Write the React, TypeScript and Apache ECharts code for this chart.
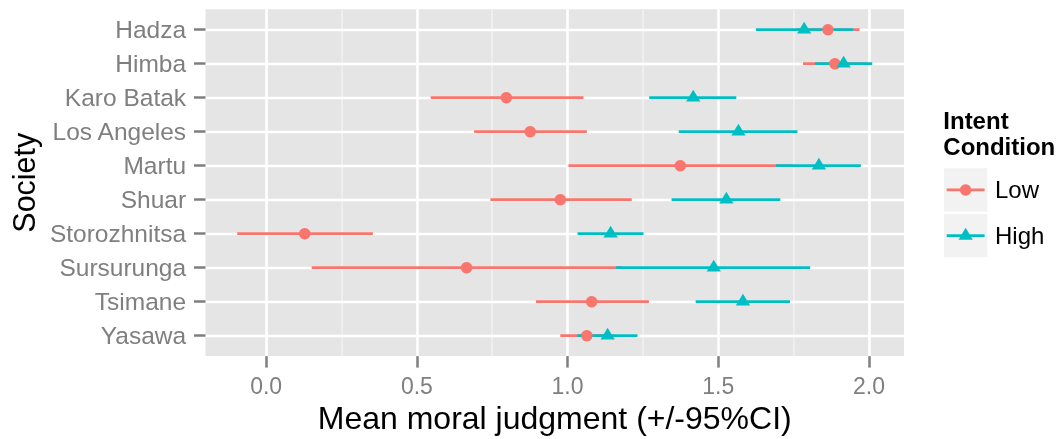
import React, { useEffect, useRef } from "react";
import * as echarts from "echarts";

const societies = [
  "Hadza",
  "Himba",
  "Karo Batak",
  "Los Angeles",
  "Martu",
  "Shuar",
  "Storozhnitsa",
  "Sursurunga",
  "Tsimane",
  "Yasawa",
];
const lowMean = [1.864, 1.887, 0.797, 0.876, 1.374, 0.976, 0.128, 0.665, 1.08, 1.064];
const lowLower = [1.76, 1.781, 0.546, 0.69, 1.003, 0.744, -0.096, 0.151, 0.895, 0.976];
const lowUpper = [1.969, 1.992, 1.053, 1.064, 1.746, 1.213, 0.354, 1.179, 1.27, 1.152];
const highMean = [1.785, 1.916, 1.417, 1.567, 1.834, 1.527, 1.143, 1.485, 1.582, 1.133];
const highLower = [1.625, 1.821, 1.271, 1.369, 1.692, 1.345, 1.033, 1.161, 1.425, 1.033];
const highUpper = [1.947, 2.011, 1.56, 1.763, 1.973, 1.706, 1.252, 1.805, 1.738, 1.232];
const xTicks = [0, 0.5, 1.0, 1.5, 2.0];
const xMinorTicks = [0.25, 0.75, 1.25, 1.75];
const groupNames = ["Low", "High"];
const legendTitle = "Intent\nCondition";
const xTitle = "Mean moral judgment (+/-95%CI)";
const yTitle = "Society";

const RED = "#F8766D";
const TEAL = "#00BFC4";
const FONT = '"Liberation Sans", Arial, sans-serif';
const GREY_TEXT = "#7F7F7F";

export default function App() {
  const ref = useRef<HTMLDivElement>(null);

  useEffect(() => {
    if (!ref.current) return;
    const chart = echarts.init(ref.current, undefined, { renderer: "svg" });

    const all = [...lowLower, ...lowUpper, ...highLower, ...highUpper];
    const dmin = Math.min(...all);
    const dmax = Math.max(...all);
    const pad = 0.05 * (dmax - dmin);
    const xmin = dmin - pad;
    const xmax = dmax + pad;

    const idx = societies.map((_, i) => i);
    const gridLeft = 202.7;
    const gridTop = 9.3;
    const gridW = 701.3;
    const gridH = 349;

    const errData = (lo: number[], hi: number[]) => idx.map((i) => [lo[i], hi[i], i]);
    const ptData = (m: number[]) => idx.map((i) => [m[i], i]);

    const errSeries = (name: string, lo: number[], hi: number[], color: string) => ({
      type: "custom",
      name,
      xAxisIndex: 0,
      yAxisIndex: 0,
      data: errData(lo, hi),
      encode: { x: [0, 1], y: 2 },
      renderItem: (params: any, api: any) => {
        const y = api.value(2);
        const p1 = api.coord([api.value(0), y]);
        const p2 = api.coord([api.value(1), y]);
        return {
          type: "line",
          shape: { x1: p1[0], y1: p1[1], x2: p2[0], y2: p2[1] },
          style: { stroke: color, lineWidth: 2.7 },
        };
      },
      silent: true,
    });

    const kx = 944;
    const kw = 43.3;
    const key1 = 168.3;
    const key2 = 214;
    const kc = kx + kw / 2;

    const option: any = {
      animation: false,
      grid: {
        left: gridLeft,
        top: gridTop,
        width: gridW,
        height: gridH,
        show: true,
        backgroundColor: "#E5E5E5",
        borderWidth: 0,
        containLabel: false,
      },
      xAxis: [
        {
          type: "value",
          position: "bottom",
          min: xmin,
          max: xmax,
          z: 1,
          axisLine: { show: false, onZero: false },
          axisTick: {
            show: true,
            length: 11.5,
            customValues: xTicks,
            lineStyle: { color: GREY_TEXT, width: 2.5 },
          },
          axisLabel: {
            show: true,
            customValues: xTicks,
            formatter: (v: number) => v.toFixed(1),
            color: GREY_TEXT,
            fontSize: 23,
            fontFamily: FONT,
            margin: 18,
          },
          splitLine: { show: true, lineStyle: { color: "#FFFFFF", width: 2.6 } },
          name: xTitle,
          nameLocation: "middle",
          nameGap: 43,
          nameTextStyle: { color: "#000000", fontSize: 32, fontFamily: FONT },
        },
        {
          type: "value",
          position: "bottom",
          min: xmin,
          max: xmax,
          z: 0,
          axisLine: { show: false, onZero: false },
          axisTick: { show: false, customValues: xMinorTicks },
          axisLabel: { show: false, customValues: xMinorTicks },
          splitLine: { show: true, lineStyle: { color: "#F2F2F2", width: 1.5 } },
        },
      ],
      yAxis: [
        {
          type: "value",
          position: "left",
          inverse: true,
          min: -0.6,
          max: societies.length - 1 + 0.6,
          z: 1,
          axisLine: { show: false, onZero: false },
          axisTick: {
            show: true,
            length: 11.5,
            customValues: idx,
            lineStyle: { color: GREY_TEXT, width: 2.5 },
          },
          axisLabel: {
            show: true,
            customValues: idx,
            formatter: (v: number) => societies[Math.round(v)] ?? "",
            color: GREY_TEXT,
            fontSize: 24.5,
            fontFamily: FONT,
            margin: 19.4,
          },
          splitLine: { show: true, lineStyle: { color: "#FFFFFF", width: 2.4 } },
          name: yTitle,
          nameLocation: "middle",
          nameGap: 160,
          nameRotate: 90,
          nameTextStyle: { color: "#000000", fontSize: 30.5, fontFamily: FONT },
        },
      ],
      series: [
        errSeries(groupNames[0], lowLower, lowUpper, RED),
        errSeries(groupNames[1], highLower, highUpper, TEAL),
        {
          type: "scatter",
          name: groupNames[0],
          xAxisIndex: 0,
          yAxisIndex: 0,
          data: ptData(lowMean),
          symbol: "circle",
          symbolSize: 11.5,
          itemStyle: { color: RED, opacity: 1 },
          silent: true,
        },
        {
          type: "scatter",
          name: groupNames[1],
          xAxisIndex: 0,
          yAxisIndex: 0,
          data: ptData(highMean),
          symbol: "triangle",
          symbolSize: [14.3, 11.8],
          symbolOffset: [0, -2],
          itemStyle: { color: TEAL, opacity: 1 },
          silent: true,
        },
      ],
      graphic: [
        {
          type: "text",
          x: 943.3,
          y: 133.5,
          style: {
            text: legendTitle,
            fill: "#000000",
            fontSize: 24,
            fontWeight: "bold",
            fontFamily: FONT,
            lineHeight: 26.7,
            align: "left",
            verticalAlign: "middle",
          },
        },
        {
          type: "rect",
          shape: { x: kx, y: key1, width: kw, height: kw },
          style: { fill: "#F2F2F2" },
        },
        {
          type: "rect",
          shape: { x: kx, y: key2, width: kw, height: kw },
          style: { fill: "#F2F2F2" },
        },
        {
          type: "line",
          shape: { x1: kx + 2.7, y1: key1 + kw / 2, x2: kx + kw - 2.7, y2: key1 + kw / 2 },
          style: { stroke: RED, lineWidth: 2.7 },
        },
        {
          type: "circle",
          shape: { cx: kc, cy: key1 + kw / 2, r: 5.7 },
          style: { fill: RED },
        },
        {
          type: "line",
          shape: { x1: kx + 2.7, y1: key2 + kw / 2, x2: kx + kw - 2.7, y2: key2 + kw / 2 },
          style: { stroke: TEAL, lineWidth: 2.7 },
        },
        {
          type: "polygon",
          shape: {
            points: [
              [kc, key2 + kw / 2 - 8],
              [kc - 7.15, key2 + kw / 2 + 4],
              [kc + 7.15, key2 + kw / 2 + 4],
            ],
          },
          style: { fill: TEAL },
        },
        {
          type: "text",
          x: 995,
          y: key1 + kw / 2,
          style: {
            text: groupNames[0],
            fill: "#000000",
            fontSize: 24,
            fontFamily: FONT,
            align: "left",
            verticalAlign: "middle",
          },
        },
        {
          type: "text",
          x: 995,
          y: key2 + kw / 2,
          style: {
            text: groupNames[1],
            fill: "#000000",
            fontSize: 24,
            fontFamily: FONT,
            align: "left",
            verticalAlign: "middle",
          },
        },
      ],
    };

    chart.setOption(option);
    return () => {
      chart.dispose();
    };
  }, []);

  return (
    <div
      ref={ref}
      style={{ position: "fixed", left: 0, top: 0, width: 1062, height: 439 }}
    />
  );
}
